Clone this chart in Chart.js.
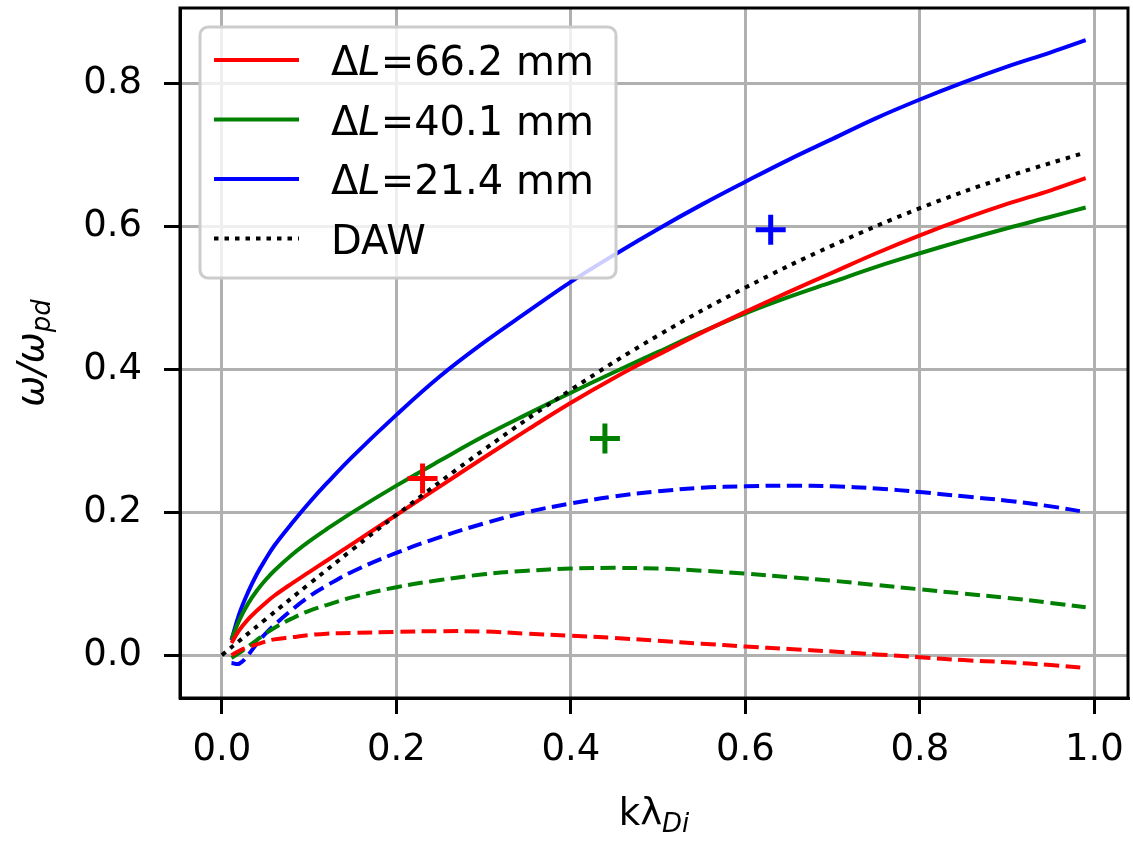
<!DOCTYPE html>
<html>
<head>
<meta charset="utf-8">
<script src="https://cdn.jsdelivr.net/npm/chart.js@4.4.1/dist/chart.umd.min.js"></script>
<style>
  body { margin: 0; background: #fff; }
  #wrap { width: 1133px; height: 841px; }
</style>
</head>
<body>
<div id="wrap"><canvas id="dispchart" width="1133" height="841"></canvas></div>
<script>
// sample points along k*lambda_Di
var kLambda = [0.011, 0.02, 0.03, 0.04, 0.05, 0.06, 0.08, 0.1, 0.12, 0.15, 0.2, 0.25, 0.3, 0.35,
               0.4, 0.45, 0.5, 0.55, 0.6, 0.65, 0.7, 0.75, 0.8, 0.85, 0.9, 0.95, 0.99];

// real part (solid) and damping (dashed) for each gap length
var realRed   = [0.017, 0.035, 0.050, 0.062, 0.073, 0.083, 0.100, 0.116, 0.132, 0.156, 0.196, 0.236, 0.276, 0.315,
                 0.353, 0.388, 0.420, 0.451, 0.480, 0.508, 0.535, 0.562, 0.587, 0.610, 0.631, 0.650, 0.667];
var imagRed   = [0.000, 0.006, 0.011, 0.015, 0.019, 0.022, 0.025, 0.028, 0.030, 0.031, 0.0325, 0.0335, 0.033, 0.030,
                 0.027, 0.024, 0.020, 0.016, 0.012, 0.0085, 0.005, 0.001, -0.003, -0.007, -0.010, -0.014, -0.018];
var realGreen = [0.022, 0.049, 0.072, 0.090, 0.105, 0.118, 0.140, 0.159, 0.176, 0.200, 0.237, 0.272, 0.306, 0.337,
                 0.367, 0.396, 0.424, 0.452, 0.478, 0.501, 0.522, 0.543, 0.562, 0.580, 0.597, 0.613, 0.626];
var imagGreen = [-0.004, 0.003, 0.012, 0.021, 0.030, 0.038, 0.051, 0.062, 0.070, 0.081, 0.095, 0.105, 0.113, 0.118,
                 0.121, 0.122, 0.121, 0.118, 0.114, 0.109, 0.104, 0.098, 0.092, 0.086, 0.080, 0.073, 0.067];
var realBlue  = [0.021, 0.058, 0.088, 0.113, 0.134, 0.153, 0.184, 0.213, 0.240, 0.278, 0.336, 0.390, 0.437, 0.480,
                 0.522, 0.560, 0.596, 0.630, 0.662, 0.693, 0.722, 0.751, 0.777, 0.801, 0.823, 0.843, 0.860];
var imagBlue  = [-0.011, -0.012, 0.000, 0.016, 0.030, 0.042, 0.063, 0.082, 0.097, 0.117, 0.143, 0.165, 0.184, 0.200,
                 0.212, 0.222, 0.229, 0.234, 0.236, 0.237, 0.236, 0.233, 0.228, 0.222, 0.216, 0.208, 0.200];

// dust acoustic wave reference
var kDaw     = [0.0, 0.05, 0.1, 0.15, 0.2, 0.3, 0.4, 0.5, 0.6, 0.7, 0.8, 0.9, 0.99];
var omegaDaw = [0.0, 0.050, 0.0995, 0.148, 0.196, 0.287, 0.371, 0.447, 0.514, 0.573, 0.625, 0.669, 0.703];

// measured points (+)
var measK     = [0.230, 0.439, 0.629];
var measOmega = [0.247, 0.303, 0.595];

var seriesNames = ['ΔL=66.2 mm', 'ΔL=40.1 mm', 'ΔL=21.4 mm', 'DAW'];
var colors = ['#ff0000', '#008000', '#0000ff'];

var fontFam = '"DejaVu Sans", sans-serif';

function pts(xs, ys) {
    return xs.map(function (x, i) { return { x: x, y: ys[i] }; });
}

function lineSet(name, xs, ys, color, dash, ord) {
    return {
        label: name,
        data: pts(xs, ys),
        borderColor: color,
        backgroundColor: color,
        borderWidth: 4,
        borderDash: dash,
        borderCapStyle: 'butt',
        pointRadius: 0,
        fill: false,
        showLine: true,
        tension: 0.4,
        order: ord
    };
}

var datasets = [
    lineSet(seriesNames[0], kLambda, realRed, colors[0], [], 5),
    lineSet('', kLambda, imagRed, colors[0], [15, 6.5], 8),
    lineSet(seriesNames[1], kLambda, realGreen, colors[1], [], 6),
    lineSet('', kLambda, imagGreen, colors[1], [15, 6.5], 9),
    lineSet(seriesNames[2], kLambda, realBlue, colors[2], [], 7),
    lineSet('', kLambda, imagBlue, colors[2], [15, 6.5], 10),
    lineSet(seriesNames[3], kDaw, omegaDaw, '#000000', [4.5, 6], 2)
];
// one + marker per gap length
for (var i = 0; i < measK.length; i++) {
    datasets.push({
        label: '',
        data: [{ x: measK[i], y: measOmega[i] }],
        borderColor: colors[i],
        backgroundColor: colors[i],
        pointStyle: 'cross',
        pointRadius: 15,
        pointBorderWidth: 5,
        showLine: false,
        order: 1
    });
}

// frame on all four sides
var framePlugin = {
    id: 'frame',
    afterDatasetsDraw: function (chart) {
        var a = chart.chartArea, c = chart.ctx;
        c.save();
        c.strokeStyle = '#000';
        c.lineWidth = 3;
        c.strokeRect(a.left, a.top, a.right - a.left, a.bottom - a.top);
        c.restore();
    }
};

// legend box in the upper left, like matplotlib
var legendPlugin = {
    id: 'boxLegend',
    afterDraw: function (chart) {
        var a = chart.chartArea, c = chart.ctx;
        var x0 = a.left + 20, y0 = a.top + 19, w = 416, h = 251;
        c.save();
        c.beginPath();
        c.roundRect(x0, y0, w, h, 8);
        c.fillStyle = 'rgba(255,255,255,0.8)';
        c.fill();
        c.lineWidth = 3;
        c.strokeStyle = '#cccccc';
        c.stroke();
        var rows = chart.data.datasets.filter(function (d) { return d.label; });
        rows.forEach(function (d, r) {
            var y = y0 + 33 + r * 59.5;
            c.beginPath();
            c.setLineDash(d.borderDash);
            c.lineCap = 'butt';
            c.lineWidth = 4;
            c.strokeStyle = d.borderColor;
            c.moveTo(x0 + 14, y);
            c.lineTo(x0 + 99, y);
            c.stroke();
            c.setLineDash([]);
            c.fillStyle = '#000';
            c.textBaseline = 'alphabetic';
            var tx = x0 + 131, base = y + 15;
            var parts = d.label.indexOf('ΔL') === 0
                ? [['Δ', ''], ['L', 'italic '], [d.label.slice(2), '']]
                : [[d.label, '']];
            parts.forEach(function (p) {
                c.font = p[1] + '40px ' + fontFam;
                c.fillText(p[0], tx, base);
                tx += c.measureText(p[0]).width;
            });
        });
        c.restore();
    }
};

// axis titles with subscripts
function drawParts(c, parts, x, y) {
    var total = 0;
    parts.forEach(function (p) { c.font = p.f; total += c.measureText(p.t).width; });
    var tx = x - total / 2;
    parts.forEach(function (p) {
        c.font = p.f;
        c.fillText(p.t, tx, y + p.dy);
        tx += c.measureText(p.t).width;
    });
}
var titlePlugin = {
    id: 'axisTitles',
    afterDraw: function (chart) {
        var a = chart.chartArea, c = chart.ctx;
        c.save();
        c.fillStyle = '#000';
        c.textBaseline = 'alphabetic';
        var big = '37px ' + fontFam, bigI = 'italic 37px ' + fontFam, sub = 'italic 26px ' + fontFam;
        drawParts(c, [
            { t: 'k', f: big, dy: 0 },
            { t: 'λ', f: big, dy: 0 },
            { t: 'Di', f: sub, dy: 7 }
        ], (a.left + a.right) / 2, 825);
        c.translate(43, (a.top + a.bottom) / 2);
        c.rotate(-Math.PI / 2);
        drawParts(c, [
            { t: 'ω/ω', f: bigI, dy: 0 },
            { t: 'pd', f: sub, dy: 7 }
        ], 0, 0);
        c.restore();
    }
};

var ctx = document.getElementById('dispchart').getContext('2d');
var chart = new Chart(ctx, {
    type: 'scatter',
    data: { datasets: datasets },
    options: {
        responsive: false,
        animation: false,
        devicePixelRatio: 1,
        layout: { autoPadding: false, padding: { top: 8, right: 5, left: 0, bottom: 0 } },
        plugins: {
            legend: { display: false },
            tooltip: { enabled: false }
        },
        scales: {
            x: {
                type: 'linear',
                min: -0.048,
                max: 1.0385,
                afterFit: function (s) { s.height = 143; s.paddingLeft = 0; s.paddingRight = 0; },
                ticks: {
                    stepSize: 0.2,
                    includeBounds: false,
                    autoSkip: false,
                    maxRotation: 0,
                    padding: 14,
                    color: '#000',
                    font: { family: fontFam, size: 37 },
                    callback: function (v) { return v.toFixed(1); }
                },
                grid: { color: '#b0b0b0', lineWidth: 3, tickColor: '#000', tickLength: 16, tickWidth: 3 },
                border: { display: true, color: '#000', width: 3 }
            },
            y: {
                type: 'linear',
                min: -0.060,
                max: 0.905,
                afterFit: function (s) { s.width = 180; s.paddingTop = 0; s.paddingBottom = 0; },
                ticks: {
                    stepSize: 0.2,
                    includeBounds: false,
                    autoSkip: false,
                    padding: 22,
                    color: '#000',
                    font: { family: fontFam, size: 37 },
                    callback: function (v) { return v.toFixed(1); }
                },
                grid: { color: '#b0b0b0', lineWidth: 3, tickColor: '#000', tickLength: 16, tickWidth: 3 },
                border: { display: true, color: '#000', width: 3 }
            }
        }
    },
    plugins: [framePlugin, legendPlugin, titlePlugin]
});
</script>
</body>
</html>
